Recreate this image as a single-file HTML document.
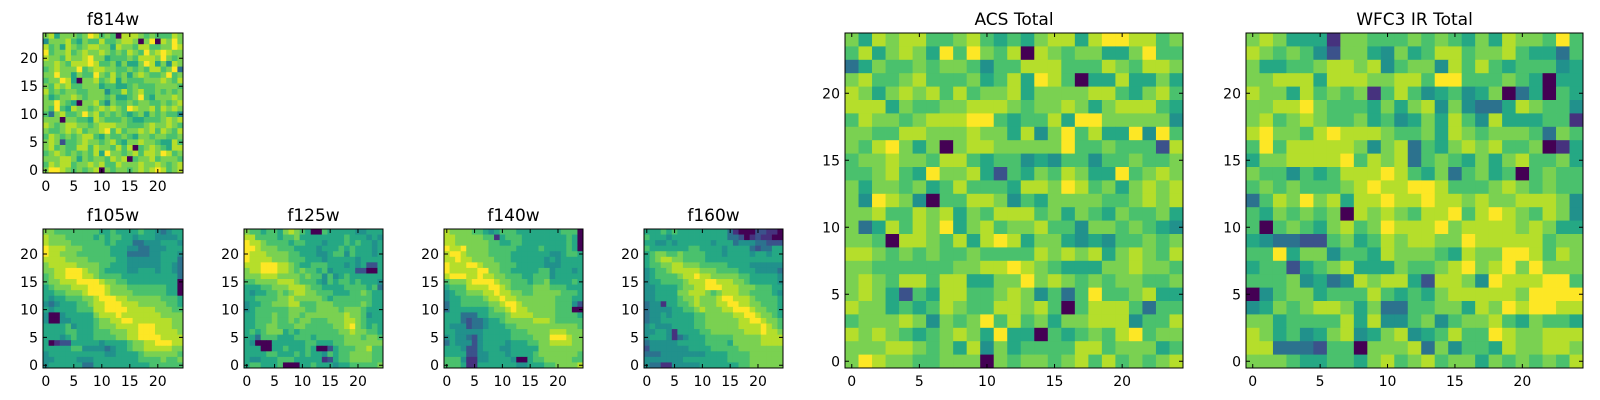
<!DOCTYPE html>
<html><head><meta charset="utf-8">
<style>
html,body{margin:0;padding:0;background:#fff;}
svg{display:block;}
text{font-family:"DejaVu Sans","Liberation Sans",sans-serif;fill:#000;}
</style></head>
<body>
<svg id="fig" width="1600" height="400" viewBox="0 0 1600 400" xmlns="http://www.w3.org/2000/svg"></svg>
<script>
// ---- data (rows listed top = y 24 down to bottom = y 0; digits = colour level 0..9) ----
const panelTitles = ["f814w","f105w","f125w","f140w","f160w","ACS Total","WFC3 IR Total"];
const tickValues = [0,5,10,15,20];
const tickLabels = ["0","5","10","15","20"];

const f814w = [
"7857776798676088876766687","4777865766866788707908797","8675876788775877688667798","9677867877876768769789877",
"8776877897756667688879767","7787688898667575579857487","6787779678877667676886793","7797757669768675787667967",
"6779850778678576667778768","7687866777566556766677776","8676776677746686786676767","7567787677767556796577787",
"7797650778647667677667678","7696587767878769877868787","6378667978676765675767664","7770776658766676556667878",
"8767887767888776667877876","7667878677896867787868768","6876767886576676577677667","7872667877678657787765586",
"7867668868776868067876588","6787676768597767868879867","7778875767768780677867776","6878867787866877787787678",
"7998767678076776787898678"];
const f105w = [
"7766666666556555565543455","8777666665656655455544445","8777766666656555334445554","9888777666665554433444555",
"9887776666665553333445554","8888777766666554444445553","7888887777665554444445543","7788999877655554455545543",
"6788999887666655555555553","6778889999877665555555550","5677788899987776666666550","5566777899987777666666550",
"5455666778999887777776665","4345556678899988877777665","5455556668899998888877766","4004555557888988888887777",
"4004455556778899888888877","5555645556777888899988877","5555665556667778899988887","5554565556666778899998888",
"5012255555455556778899988","5555566444434556778888877","4555555555544555567777776","4455554445555555566667667",
"4555555335555555555666666"];
const f125w = [
"7665665787650065555544555","8866665667555555556555454","9887666656655545556565545","9987776665555455565655545",
"9888777766555445664655545","9888877766655545555545555","8889998876556665554545225","7889998876766564555522005",
"7778887777676646456555555","6677778887666546566565554","5556677788876655556666563","5455667678877666555667655",
"5566667787777765666666655","4556677788666777666667655","4566666677766777767776555","5566676677677777778776455",
"5566676676776667778876555","5566776667766666778976565","5656777565666666677877665","5536665556665666667776776",
"5400055555566555667777777","5550055655565002566677866","5555665556565546566777766","5445556665555512566777766",
"5665556000556555455666667"];
const f140w = [
"8777766545666555555556660","8877777661566655555555650","8877777766556655555555650","9889777766666555565555650",
"8998777766665555555445665","8898877776665555554545555","9888998777666555554445555","9888889977665555566455545",
"8999889887766655666455555","6777899998776665667555565","5666888899876666777666555","4566777889887766777776665",
"4556666788988777777766655","3556666677899877777766642","3555555567789887777766600","5553335566678888777766665",
"5553233455677777888766666","5444233455566777777777776","5544444555556667777888777","4544324555556666777999877",
"3544424555545556677888877","5554224555445555577777777","5555224455545555677777776","6664114455554005667777766",
"6665115555555445556677778"];
const f160w = [
"5556565555555553100022110","6555455555555553320121100","5544545555554555344433222","6555555566555545555323355",
"5677667666655545555455455","5678877666655555555555555","5667788777666665555444444","4566788888777666655544443",
"4566667889887777766555554","4556666788899888776555554","4455556778899988877766655","4455557788876788877666654",
"4455556778777899888766665","3441556678777889988776665","3444455667877788999877665","3445455556677777889987765",
"3445555556677777788998776","4544455556677777788889876","4455415555667777778889887","4555413455566666777778888",
"3444445555566665777778888","2444444455556666677777777","3334444444455556666777777","4444444555555556666777777",
"4331144444555555566777777"];
const acsTotal = [
"7587886678656578858998867","6857875969768087677557966","3576676776466888666876887","7866786667568598605585575",
"8757878686778577778865786","8885766778887677875788865","6877678889965668599777774","7766887778775847968559496",
"7689757078877777966766628","6778776886566454664667667","6678659778526576875596787","7577675686665887986757878",
"7498740668874657777667878","7786687857688867576576675","7358687957867786647767654","7760887685898577545466767",
"8876767667666687878578768","7766666677889876555778776","7876886885577978767677667","7875265886678746369667855",
"8775656876688786068886366","6777874767968675778884668","8787656787595506567689677","7778876758475666688677756",
"7987766777076776786867678"];
const wfc3Total = [
"7875551776667676575877696","8767642775475688677865536","7556678878467748686566645","7788858887788699666765055",
"8775867671686456457035065","7788976665757847433587664","7867876675645758648555661","8977689888766758767776376",
"6968888874783657878667015","5778888968783676575786675","7664656888986573675606766","6767666789889986667876766",
"3687978588988988787788874","6576767087876889689876874","6067657867988897888878755","5433226756878877988888677",
"6695774665877765877998687","5662567855576678978979777","6667453487885288749888996","0467756668656578888879999",
"4576788757336677587989988","7756666858446746778657665","8756457845784568669877888","8833326607778374665877887",
"7776556657867867757676768"];

const panelData = [f814w,f105w,f125w,f140w,f160w,acsTotal,wfc3Total];

// ---- layout (not data) ----
const boxes = [
 {x:43,y:33,w:140,h:140,big:false},
 {x:43,y:229,w:140,h:139,big:false},
 {x:244,y:229,w:139,h:139,big:false},
 {x:444,y:229,w:139,h:139,big:false},
 {x:644,y:229,w:139,h:139,big:false},
 {x:845,y:33,w:338,h:335,big:true},
 {x:1246,y:33,w:337,h:335,big:true}
];
const cmap = ["#440154","#46327e","#3b528b","#2c728e","#21918c","#25a884","#4ac16d","#7ad151","#b5de2b","#fde725"];
const NS = "http://www.w3.org/2000/svg";
const svg = document.getElementById("fig");

function mk(tag, attrs){
  const e = document.createElementNS(NS, tag);
  for (const k in attrs) e.setAttribute(k, attrs[k]);
  return e;
}

panelData.forEach((grid, p) => {
  const b = boxes[p];
  const n = grid.length;
  const g = mk("g", {});
  
  
  svg.appendChild(g);
  const xs = v => b.x + (v + 0.5) * b.w / n;
  const ys = v => b.y + (n - 0.5 - v) * b.h / n;
  const cw = b.w / n, ch = b.h / n;
  for (let r = 0; r < n; r++) {
    const row = grid[r];
    const yv = n - 1 - r;
    for (let c = 0; c < n; c++) {
      const lv = parseInt(row[c] || "6", 10);
      const rect = mk("rect", {x: (xs(c) - cw/2).toFixed(2), y: (ys(yv) - ch/2).toFixed(2), width: (cw + 0.4).toFixed(2), height: (ch + 0.4).toFixed(2), fill: cmap[lv]});
      
      
      g.appendChild(rect);
    }
  }
  const frame = mk("rect", {x: b.x, y: b.y, width: b.w, height: b.h, fill: "none", stroke: "#000", "stroke-width": 1});
  
  
  g.appendChild(frame);
  const fs = 14;
  tickValues.forEach((t, i) => {
    const tx = xs(t), ty = ys(t);
    const tk = mk("path", {d: `M${tx},${b.y+b.h}v-4M${tx},${b.y}v4M${b.x},${ty}h4M${b.x+b.w},${ty}h-4`, stroke: "#000", "stroke-width": 1, fill: "none"});
    
    
    g.appendChild(tk);
    const xl = mk("text", {x: tx, y: b.y + b.h + 18, "font-size": fs, "text-anchor": "middle"});
    xl.textContent = tickLabels[i];
    
    
    g.appendChild(xl);
    const yl = mk("text", {x: b.x - 5, y: ty + 5, "font-size": fs, "text-anchor": "end"});
    yl.textContent = tickLabels[i];
    
    
    g.appendChild(yl);
  });
  const tt = mk("text", {x: b.x + b.w/2, y: b.y - 8, "font-size": 17, "text-anchor": "middle"});
  tt.textContent = panelTitles[p];
  
  
  g.appendChild(tt);
});
</script>
</body></html>
